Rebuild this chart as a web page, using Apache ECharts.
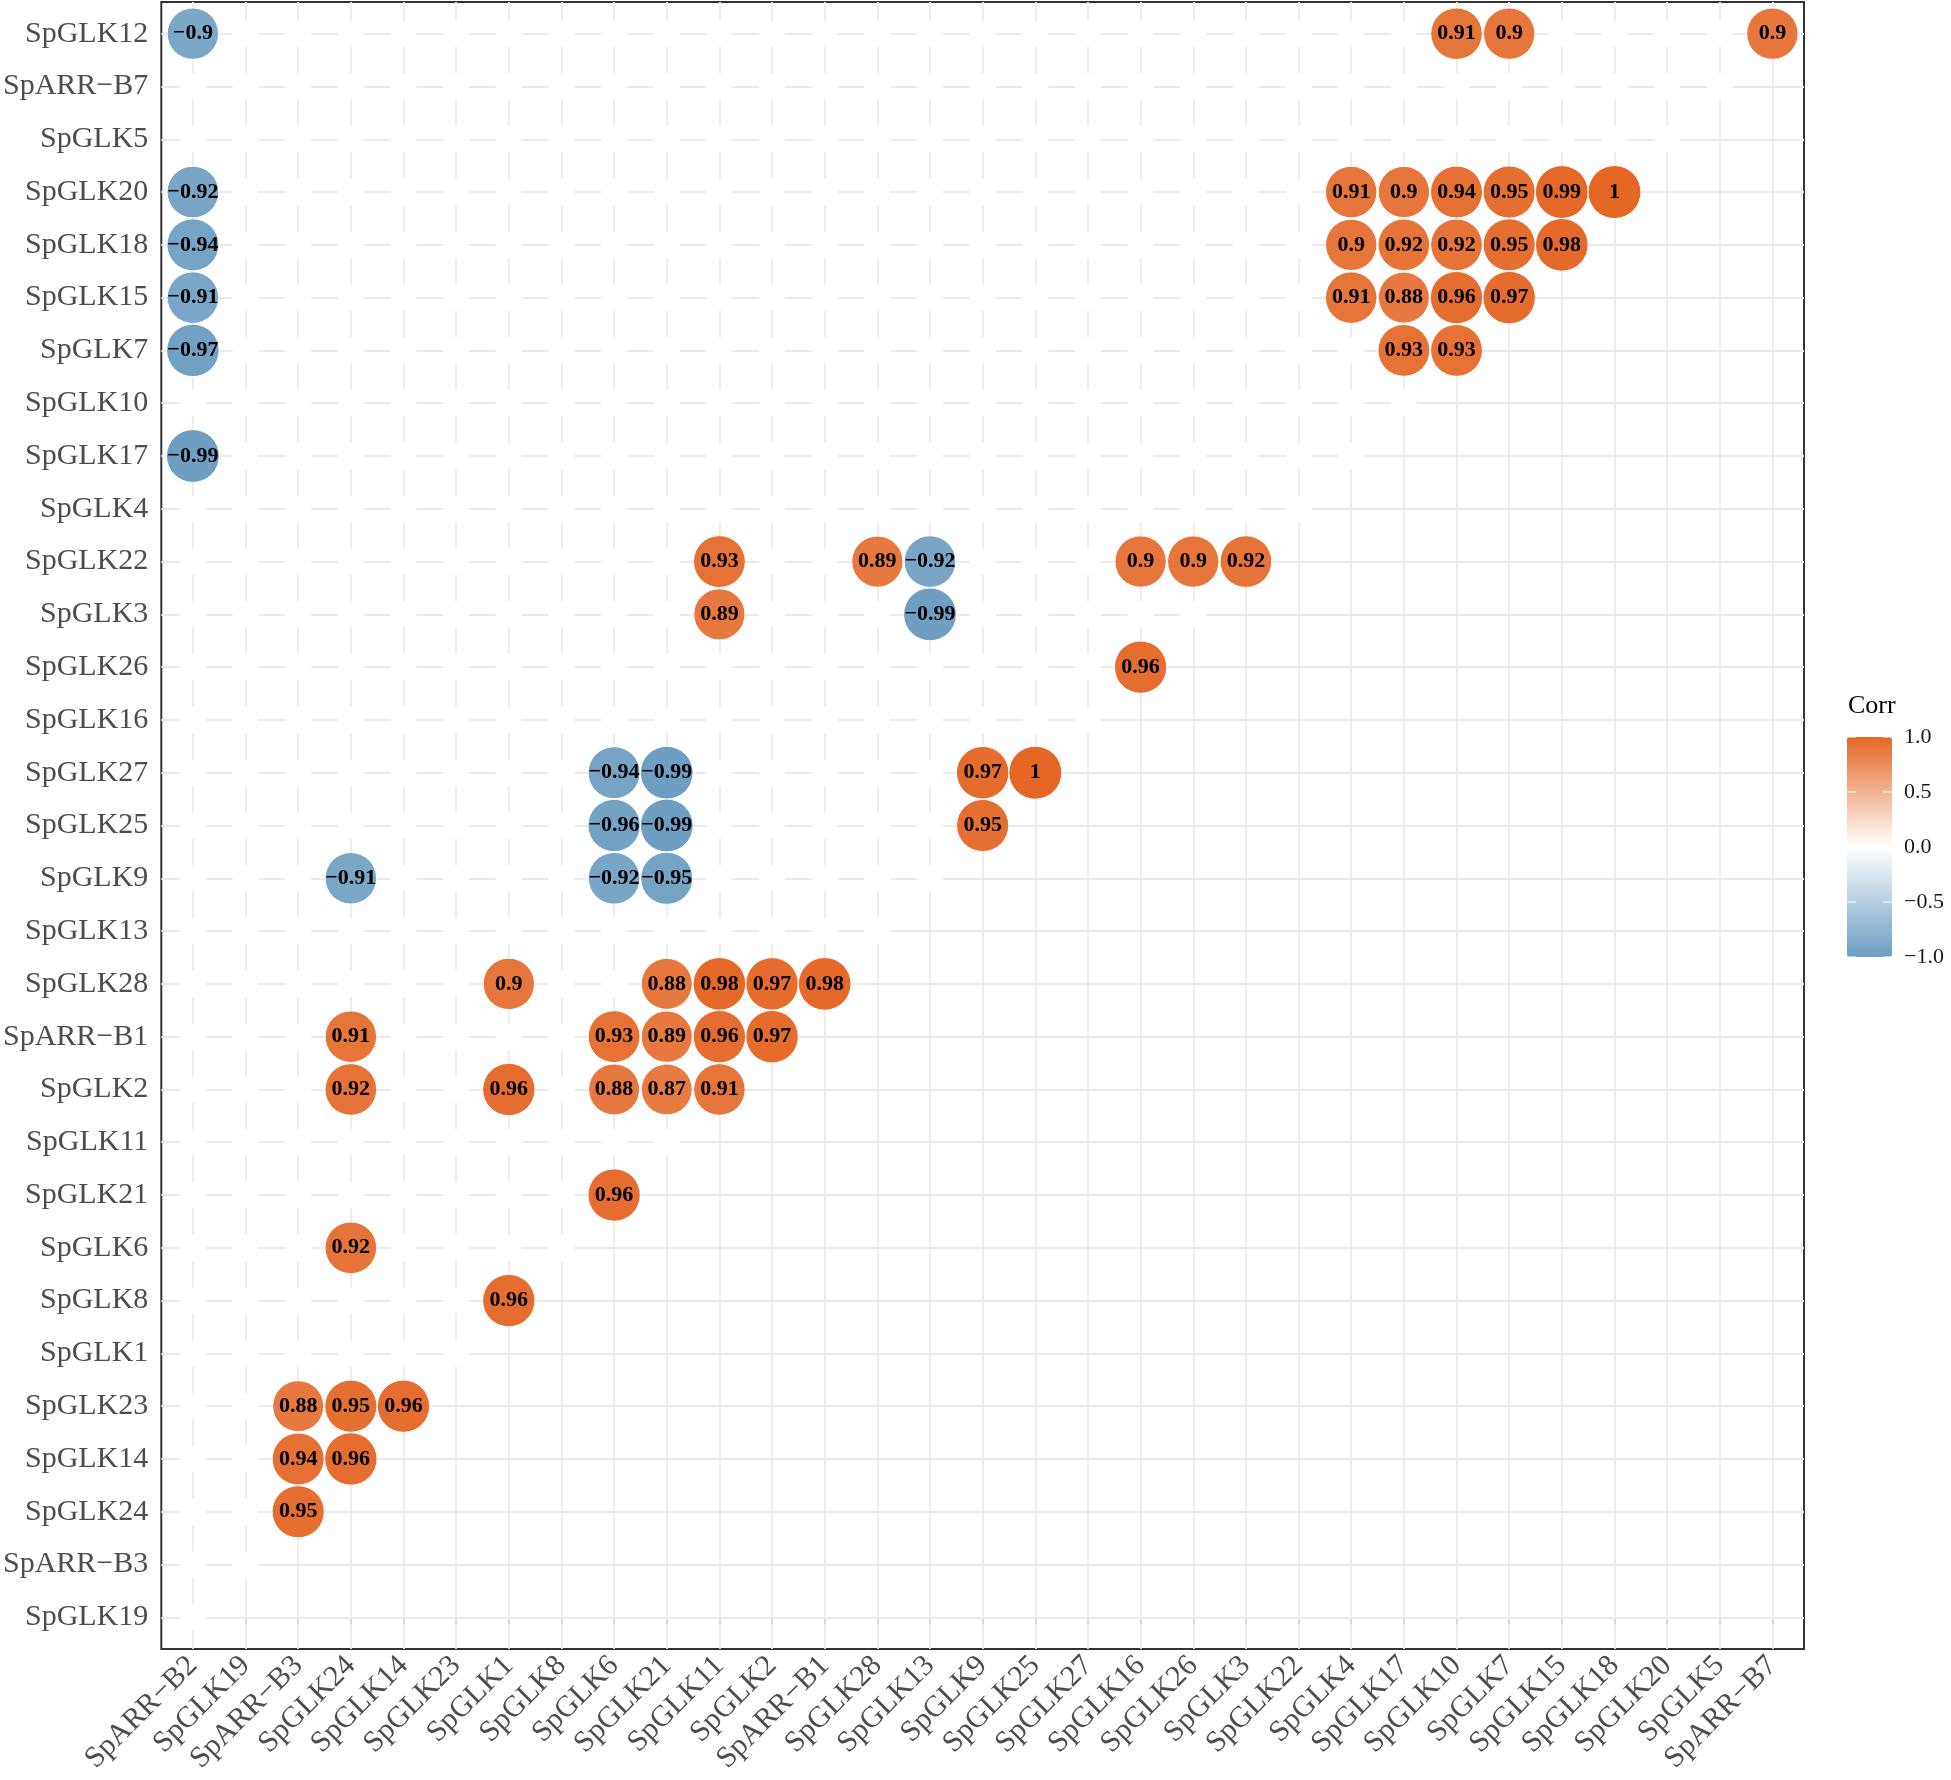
<!DOCTYPE html>
<html><head><meta charset="utf-8">
<script src="https://cdn.jsdelivr.net/npm/echarts@6/dist/echarts.min.js"></script>
<style>html,body{margin:0;padding:0;background:#fff}#c{width:1951px;height:1780px}</style>
</head><body><div id="c"></div>
<script>
// x categories (left to right)
const xCats = ["SpARR\u2212B2","SpGLK19","SpARR\u2212B3","SpGLK24","SpGLK14","SpGLK23","SpGLK1","SpGLK8","SpGLK6","SpGLK21","SpGLK11","SpGLK2","SpARR\u2212B1","SpGLK28","SpGLK13","SpGLK9","SpGLK25","SpGLK27","SpGLK16","SpGLK26","SpGLK3","SpGLK22","SpGLK4","SpGLK17","SpGLK10","SpGLK7","SpGLK15","SpGLK18","SpGLK20","SpGLK5","SpARR\u2212B7"];
// y categories (bottom to top)
const yCats = ["SpGLK19","SpARR\u2212B3","SpGLK24","SpGLK14","SpGLK23","SpGLK1","SpGLK8","SpGLK6","SpGLK21","SpGLK11","SpGLK2","SpARR\u2212B1","SpGLK28","SpGLK13","SpGLK9","SpGLK25","SpGLK27","SpGLK16","SpGLK26","SpGLK3","SpGLK22","SpGLK4","SpGLK17","SpGLK10","SpGLK7","SpGLK15","SpGLK18","SpGLK20","SpGLK5","SpARR\u2212B7","SpGLK12"];
// significant correlations: row (y), column (x), value
const cellRow = [
 "SpGLK12","SpGLK12","SpGLK12","SpGLK12",
 "SpGLK20","SpGLK20","SpGLK20","SpGLK20","SpGLK20","SpGLK20","SpGLK20",
 "SpGLK18","SpGLK18","SpGLK18","SpGLK18","SpGLK18","SpGLK18",
 "SpGLK15","SpGLK15","SpGLK15","SpGLK15","SpGLK15",
 "SpGLK7","SpGLK7","SpGLK7",
 "SpGLK17",
 "SpGLK22","SpGLK22","SpGLK22","SpGLK22","SpGLK22","SpGLK22",
 "SpGLK3","SpGLK3",
 "SpGLK26",
 "SpGLK27","SpGLK27","SpGLK27","SpGLK27",
 "SpGLK25","SpGLK25","SpGLK25",
 "SpGLK9","SpGLK9","SpGLK9",
 "SpGLK28","SpGLK28","SpGLK28","SpGLK28","SpGLK28",
 "SpARR\u2212B1","SpARR\u2212B1","SpARR\u2212B1","SpARR\u2212B1","SpARR\u2212B1",
 "SpGLK2","SpGLK2","SpGLK2","SpGLK2","SpGLK2",
 "SpGLK21",
 "SpGLK6",
 "SpGLK8",
 "SpGLK23","SpGLK23","SpGLK23",
 "SpGLK14","SpGLK14",
 "SpGLK24"];
const cellCol = [
 "SpARR\u2212B2","SpGLK10","SpGLK7","SpARR\u2212B7",
 "SpARR\u2212B2","SpGLK4","SpGLK17","SpGLK10","SpGLK7","SpGLK15","SpGLK18",
 "SpARR\u2212B2","SpGLK4","SpGLK17","SpGLK10","SpGLK7","SpGLK15",
 "SpARR\u2212B2","SpGLK4","SpGLK17","SpGLK10","SpGLK7",
 "SpARR\u2212B2","SpGLK17","SpGLK10",
 "SpARR\u2212B2",
 "SpGLK11","SpGLK28","SpGLK13","SpGLK16","SpGLK26","SpGLK3",
 "SpGLK11","SpGLK13",
 "SpGLK16",
 "SpGLK6","SpGLK21","SpGLK9","SpGLK25",
 "SpGLK6","SpGLK21","SpGLK9",
 "SpGLK24","SpGLK6","SpGLK21",
 "SpGLK1","SpGLK21","SpGLK11","SpGLK2","SpARR\u2212B1",
 "SpGLK24","SpGLK6","SpGLK21","SpGLK11","SpGLK2",
 "SpGLK24","SpGLK1","SpGLK6","SpGLK21","SpGLK11",
 "SpGLK6",
 "SpGLK24",
 "SpGLK1",
 "SpARR\u2212B3","SpGLK24","SpGLK14",
 "SpARR\u2212B3","SpGLK24",
 "SpARR\u2212B3"];
const cellCorr = [
 -0.9,0.91,0.9,0.9,
 -0.92,0.91,0.9,0.94,0.95,0.99,1,
 -0.94,0.9,0.92,0.92,0.95,0.98,
 -0.91,0.91,0.88,0.96,0.97,
 -0.97,0.93,0.93,
 -0.99,
 0.93,0.89,-0.92,0.9,0.9,0.92,
 0.89,-0.99,
 0.96,
 -0.94,-0.99,0.97,1,
 -0.96,-0.99,0.95,
 -0.91,-0.92,-0.95,
 0.9,0.88,0.98,0.97,0.98,
 0.91,0.93,0.89,0.96,0.97,
 0.92,0.96,0.88,0.87,0.91,
 0.96,
 0.92,
 0.96,
 0.88,0.95,0.96,
 0.94,0.96,
 0.95];
const legendTicks = [1.0, 0.5, 0.0, -0.5, -1.0];

const FONT = "'Liberation Serif','Times New Roman',serif";
const chart = echarts.init(document.getElementById('c'), null, {renderer:'canvas'});

const sigData = cellCorr.map((v,k)=>[xCats.indexOf(cellCol[k]), yCats.indexOf(cellRow[k]), v]);
const sigKey = new Set(sigData.map(d=>d[0]+'_'+d[1]));
// non-significant cells of the lower triangle (drawn as blank white discs)
const blankData = [];
yCats.forEach((r,j)=>{ xCats.forEach((c,i)=>{ if(i<=j && !sigKey.has(i+'_'+j)) blankData.push([i,j]); }); });
const idxX = xCats.map((c,i)=>i), idxY = yCats.map((c,j)=>j);

const BAR_L = 1847, BAR_T = 737, BAR_W = 45, BAR_H = 220;
const graphics = [
  {type:'text', left:1848, top:693, style:{text:'Corr', font:"26px "+FONT, fill:'#000'}}
];
legendTicks.forEach(v=>{
  const y = BAR_T + (1 - v)/2*BAR_H;
  graphics.push({type:'text', x:1904, y:y, style:{text:v.toFixed(1).replace('-', '\u2212'), font:"22px "+FONT, fill:'#1a1a1a', textVerticalAlign:'middle', textAlign:'left'}, z:10});
  graphics.push({type:'line', shape:{x1:BAR_L, y1:y, x2:BAR_L+9, y2:y}, style:{stroke:'#fff', lineWidth:1}, z:10});
  graphics.push({type:'line', shape:{x1:BAR_L+BAR_W-9, y1:y, x2:BAR_L+BAR_W, y2:y}, style:{stroke:'#fff', lineWidth:1}, z:10});
});

chart.setOption({
  animation:false,
  backgroundColor:'#fff',
  grid:{left:159, top:2, width:1645, height:1647, show:true, borderColor:'#333', borderWidth:2, backgroundColor:'transparent', containLabel:false},
  xAxis:{type:'value', min:-0.6, max:30.6,
    axisLine:{show:false}, splitLine:{show:false},
    axisTick:{show:true, customValues:idxX, length:7, lineStyle:{color:'#333', width:2}},
    axisLabel:{customValues:idxX, formatter:v=>xCats[Math.round(v)], rotate:45, fontSize:30, color:'#4D4D4D', fontFamily:FONT, margin:12}
  },
  yAxis:{type:'value', min:-0.6, max:30.6,
    axisLine:{show:false}, splitLine:{show:false},
    axisTick:{show:true, customValues:idxY, length:7, lineStyle:{color:'#333', width:2}},
    axisLabel:{customValues:idxY, formatter:v=>yCats[Math.round(v)], fontSize:30, color:'#4D4D4D', fontFamily:FONT, margin:13}
  },
  visualMap:{type:'continuous', min:-1, max:1, dimension:2, seriesIndex:2, calculable:false, show:true,
    inRange:{color:['#6D9EC1','#FFFFFF','#E46726']},
    itemWidth:BAR_W, itemHeight:BAR_H, left:BAR_L, top:BAR_T, padding:0, text:null, showLabel:false, hoverLink:false},
  graphic:graphics,
  series:[
    {type:'scatter', data:[], z:1, silent:true,
      markLine:{silent:true, z:1, symbol:['none','none'], animation:false, label:{show:false},
        lineStyle:{color:'#EBEBEB', width:1.8, type:'solid'},
        emphasis:{disabled:true},
        data: idxX.map(i=>({xAxis:i})).concat(idxY.map(j=>({yAxis:j})))}},
    {type:'scatter', data:blankData, z:10, silent:true, symbol:'circle', symbolSize:26,
      itemStyle:{color:'#FFFFFF', opacity:1}},
    {type:'scatter', data:sigData, z:20, silent:true, symbol:'circle',
      symbolSize:d=>53*(0.4+0.6*Math.sqrt(Math.abs(d[2]))),
      itemStyle:{borderColor:'#FFFFFF', borderWidth:1, opacity:1},
      label:{show:true, position:'inside', formatter:p=>String(p.value[2]).replace('-', '\u2212'),
        fontFamily:FONT, fontWeight:'bold', fontSize:22, color:'#000', textBorderWidth:0, textBorderColor:'transparent'}}
  ]
});
</script></body></html>
